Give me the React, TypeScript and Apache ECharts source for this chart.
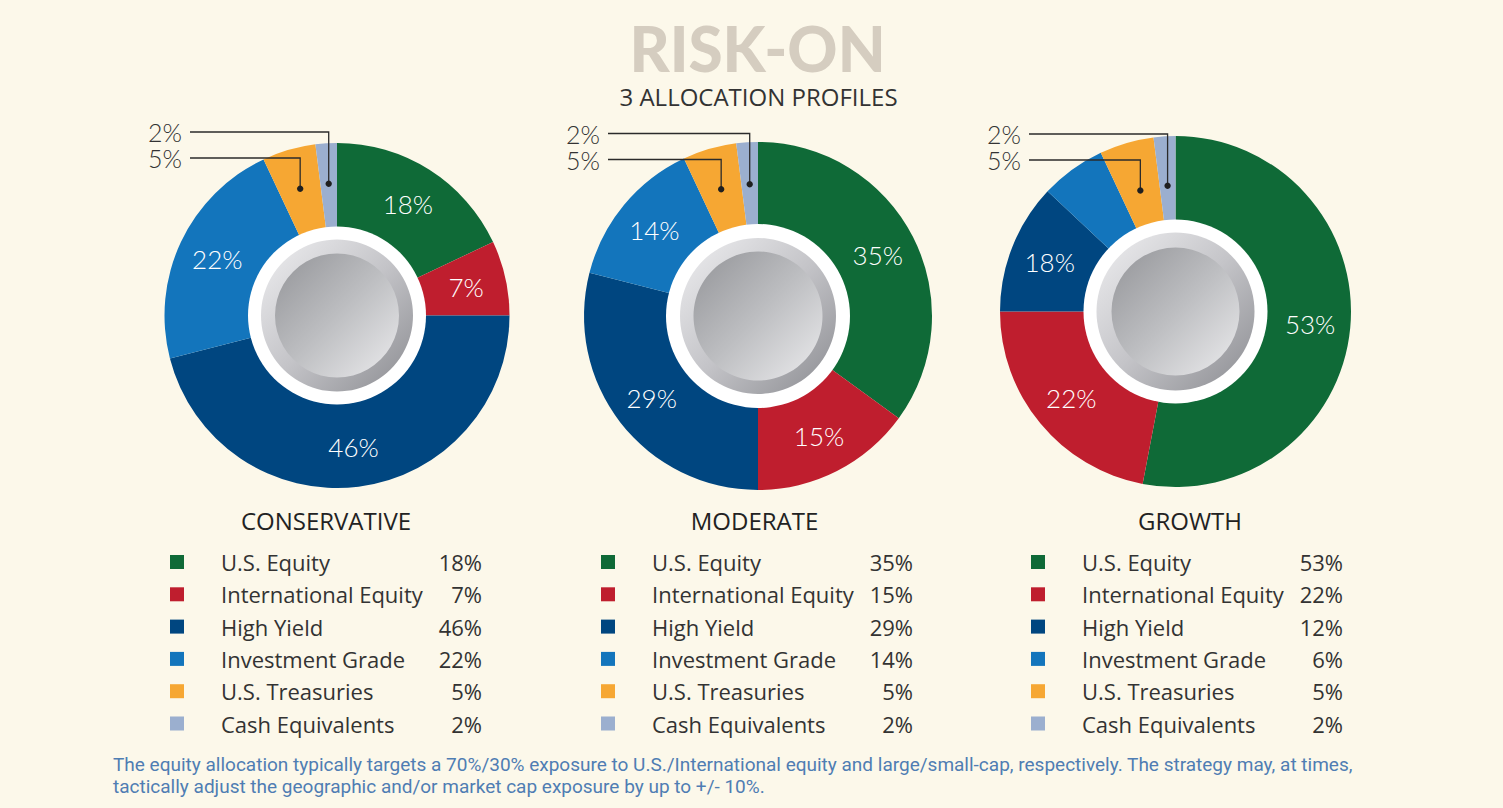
import React, { useEffect, useRef } from 'react';
import * as echarts from 'echarts';

// ---------- data ----------
const categories = [
  'U.S. Equity',
  'International Equity',
  'High Yield',
  'Investment Grade',
  'U.S. Treasuries',
  'Cash Equivalents',
];
const profileNames = ['CONSERVATIVE', 'MODERATE', 'GROWTH'];
const conservativeValues = [18, 7, 46, 22, 5, 2];
const moderateValues = [35, 15, 29, 14, 5, 2];
const growthValues = [53, 22, 12, 6, 5, 2];
// labels printed inside the slices (as printed in the original)
const conservativeSliceLabels = ['18%', '7%', '46%', '22%', '', ''];
const moderateSliceLabels = ['35%', '15%', '29%', '14%', '', ''];
const growthSliceLabels = ['53%', '22%', '18%', '', '', ''];
// slices called out with leader lines (upper first)
const calloutCategories = ['Cash Equivalents', 'U.S. Treasuries'];
const titleText = 'RISK-ON';
const subtitleText = '3 ALLOCATION PROFILES';
const footnoteLines = [
  'The equity allocation typically targets a 70%/30% exposure to U.S./International equity and large/small-cap, respectively. The strategy may, at times,',
  'tactically adjust the geographic and/or market cap exposure by up to +/- 10%.',
];

// ---------- styles / layout ----------
const sliceColors = ['#0f6a37', '#bf1e2e', '#004680', '#1375bc', '#f6a733', '#9bafcf'];
const BG = '#fcf8ea';
const FONT = 'Lato, "Open Sans", sans-serif';
const FONT2 = '"Open Sans", Lato, sans-serif';
const FONT3 = 'Roboto, "Open Sans", sans-serif';

const valuesList = [conservativeValues, moderateValues, growthValues];
const sliceLabelsList = [conservativeSliceLabels, moderateSliceLabels, growthSliceLabels];

const layouts = [
  { cx: 337, cy: 315.5, r: 172.5, white: 89, ring: 76, disc: 62, legendLeft: 170, nameX: 326, lineStartX: 190, textRight: 182, lineY: [132, 158], dotR: 132 },
  { cx: 758, cy: 316, r: 174, white: 92, ring: 78, disc: 64.5, legendLeft: 601, nameX: 754.5, lineStartX: 608, textRight: 600, lineY: [133.5, 159.5], dotR: 132 },
  { cx: 1175.5, cy: 311.5, r: 175.5, white: 92, ring: 79, disc: 64, legendLeft: 1031, nameX: 1190, lineStartX: 1029, textRight: 1021, lineY: [134, 160], dotR: 126 },
];

function buildOption() {
  const series: any[] = [];
  const graphics: any[] = [];
  const legends: any[] = [];

  layouts.forEach((L, k) => {
    const values = valuesList[k];
    const labels = sliceLabelsList[k];
    series.push({
      type: 'pie',
      name: profileNames[k],
      center: [L.cx, L.cy],
      radius: [L.white - 3, L.r],
      startAngle: 90,
      clockwise: true,
      avoidLabelOverlap: false,
      emphasis: { disabled: true },
      label: {
        show: true,
        position: 'inside',
        formatter: (p: any) => labels[p.dataIndex],
        color: '#ffffff',
        fontSize: 26,
        fontWeight: 300,
        fontFamily: FONT,
      },
      labelLine: { show: false },
      itemStyle: { borderWidth: 0 },
      data: categories.map((c, i) => ({ name: c, value: values[i], itemStyle: { color: sliceColors[i] } })),
    });

    // center button
    graphics.push({
      type: 'circle', z: 100, shape: { cx: L.cx, cy: L.cy, r: L.white }, style: { fill: '#ffffff' }, silent: true,
    });
    graphics.push({
      type: 'circle', z: 101, shape: { cx: L.cx, cy: L.cy, r: L.ring }, silent: true,
      style: {
        fill: new echarts.graphic.LinearGradient(0, 0, 1, 1, [
          { offset: 0, color: '#efeff1' },
          { offset: 0.5, color: '#c4c4c8' },
          { offset: 1, color: '#8a8b90' },
        ]),
      },
    });
    graphics.push({
      type: 'circle', z: 102, shape: { cx: L.cx, cy: L.cy, r: L.disc }, silent: true,
      style: {
        fill: new echarts.graphic.LinearGradient(0, 0, 1, 1, [
          { offset: 0, color: '#939498' },
          { offset: 0.5, color: '#bdbec1' },
          { offset: 1, color: '#ececee' },
        ]),
      },
    });

    // callouts computed from data
    const total = values.reduce((a, b) => a + b, 0);
    const cum: number[] = [];
    let acc = 0;
    values.forEach((v) => { cum.push(acc); acc += v; });
    calloutCategories.forEach((cat, j) => {
      const i = categories.indexOf(cat);
      const theta = (2 * Math.PI * (cum[i] + values[i] / 2)) / total;
      const dx = L.cx + L.dotR * Math.sin(theta);
      const dy = L.cy - L.dotR * Math.cos(theta);
      const ly = L.lineY[j];
      graphics.push({
        type: 'polyline', z: 110, silent: true,
        shape: { points: [[L.lineStartX, ly], [dx, ly], [dx, dy]] },
        style: { stroke: '#2b2b2b', lineWidth: 1.3, fill: null },
      });
      graphics.push({
        type: 'circle', z: 111, silent: true, shape: { cx: dx, cy: dy, r: 3.2 }, style: { fill: '#1f1f1f' },
      });
      graphics.push({
        type: 'text', z: 111, silent: true, x: L.textRight, y: ly,
        style: { text: values[i] + '%', fill: '#333333', fontSize: 25, lineHeight: 24, fontWeight: 300, fontFamily: FONT, textAlign: 'right', textVerticalAlign: 'middle' },
      });
    });

    // profile name
    graphics.push({
      type: 'text', z: 110, silent: true, x: L.nameX, y: 520,
      style: { text: profileNames[k], fill: '#222222', fontSize: 24, fontFamily: FONT2, textAlign: 'center', textVerticalAlign: 'middle' },
    });

    legends.push({
      orient: 'vertical',
      left: L.legendLeft,
      top: 550,
      padding: 0,
      itemGap: 8.3,
      itemWidth: 14,
      itemHeight: 14,
      icon: 'rect',
      selectedMode: false,
      data: categories,
      formatter: (name: string) => {
        const i = categories.indexOf(name);
        return `{g| }{n|${name}}{v|${values[i]}%}`;
      },
      textStyle: {
        color: '#333333',
        fontFamily: FONT2,
        fontSize: 22,
        lineHeight: 24,
        rich: {
          g: { width: 32, fontSize: 22, lineHeight: 24 },
          n: { width: 209, fontSize: 22, lineHeight: 24, color: '#333333', fontFamily: FONT2 },
          v: { width: 52, align: 'right', fontSize: 22, lineHeight: 24, color: '#333333', fontFamily: FONT2 },
        },
      },
    });
  });

  // titles
  graphics.push({
    type: 'text', z: 110, silent: true, x: 757.5, y: 48,
    style: { text: titleText, fill: '#d5cdc0', fontSize: 62, lineHeight: 52, fontWeight: 900, fontFamily: FONT, textAlign: 'center', textVerticalAlign: 'middle' },
  });
  graphics.push({
    type: 'text', z: 110, silent: true, x: 758.5, y: 96,
    style: { text: subtitleText, fill: '#333333', fontSize: 24, lineHeight: 22, fontFamily: FONT2, textAlign: 'center', textVerticalAlign: 'middle' },
  });
  footnoteLines.forEach((line, j) => {
    graphics.push({
      type: 'text', z: 110, silent: true, x: 113, y: 764 + j * 22.5,
      style: { text: line, fill: '#4f7db3', fontSize: 19, lineHeight: 20, fontFamily: FONT3, textAlign: 'left', textVerticalAlign: 'middle' },
    });
  });

  return {
    animation: false,
    backgroundColor: BG,
    color: sliceColors,
    legend: legends,
    series,
    graphic: { elements: graphics },
  };
}

export default function App() {
  const ref = useRef<HTMLDivElement>(null);
  useEffect(() => {
    document.body.style.margin = '0';
    document.body.style.background = BG;
    if (!ref.current) return;
    const chart = echarts.init(ref.current, undefined, { renderer: 'svg' });
    chart.setOption(buildOption() as any);
    return () => chart.dispose();
  }, []);
  return <div ref={ref} style={{ width: 1503, height: 808 }} />;
}
